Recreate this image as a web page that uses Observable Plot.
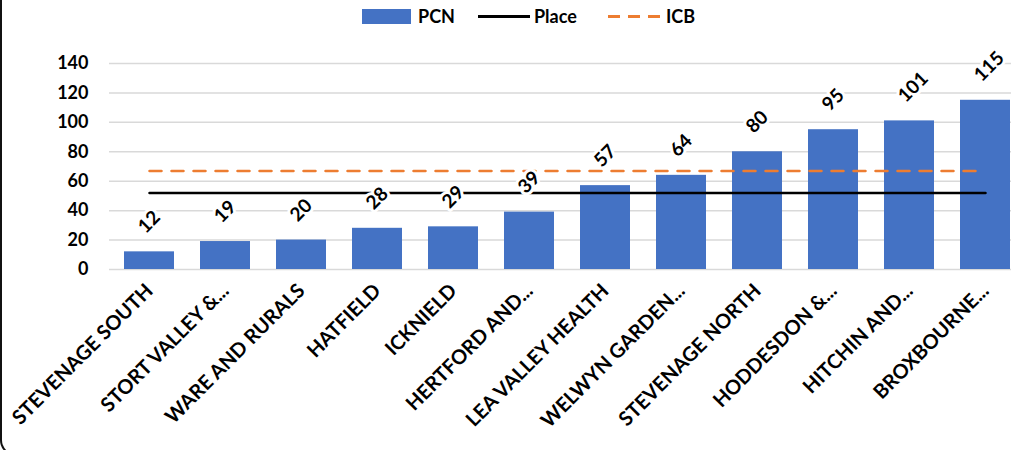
<!DOCTYPE html>
<html><head><meta charset="utf-8">
<script src="https://cdn.jsdelivr.net/npm/d3@7"></script>
<script src="https://cdn.jsdelivr.net/npm/@observablehq/plot@0.6"></script>
<style>
html,body{margin:0;padding:0;background:#fff;}
#wrap{position:relative;width:1011px;height:450px;overflow:hidden;font-family:Lato,sans-serif;}
#frame{position:absolute;left:0;top:-20px;width:1300px;height:474px;border-left:2px solid #111;border-bottom:2px solid #111;border-bottom-left-radius:16px;pointer-events:none;}
#legend{position:relative;height:32px;font-weight:700;font-size:18px;color:#000;}
#legend .sw{position:absolute;}
#legend .lb{position:absolute;top:6px;line-height:20px;}
#chart{position:absolute;left:0;top:32px;}
</style></head>
<body>
<div id="wrap">
  <div id="legend">
    <div class="sw" style="left:362px;top:9px;width:49px;height:15px;background:#4472C4"></div>
    <span class="lb" style="left:418px">PCN</span>
    <div class="sw" style="left:478px;top:15px;width:52px;height:3px;background:#000"></div>
    <span class="lb" style="left:534px">Place</span>
    <div class="sw" style="left:608px;top:15px;width:52px;height:3px;background:repeating-linear-gradient(90deg,#ED7D31 0 12px,transparent 12px 20px)"></div>
    <span class="lb" style="left:666px">ICB</span>
  </div>
  <div id="chart"></div>
  <div id="frame"></div>
</div>
<script>
const categories = ["STEVENAGE SOUTH","STORT VALLEY &...","WARE AND RURALS","HATFIELD","ICKNIELD","HERTFORD AND...","LEA VALLEY HEALTH","WELWYN GARDEN...","STEVENAGE NORTH","HODDESDON &...","HITCHIN AND...","BROXBOURNE..."];
const pcn = [12,19,20,28,29,39,57,64,80,95,101,115];
const place = [52,52,52,52,52,52,52,52,52,52,52,52];
const icb = [67,67,67,67,67,67,67,67,67,67,67,67];
const yTicks = [0,20,40,60,80,100,120,140];

const data = categories.map((c,i)=>({cat:c, pcn:pcn[i], place:place[i], icb:icb[i]}));

const chart = Plot.plot({
  width:1011, height:418,
  marginLeft:109, marginRight:0, marginTop:31, marginBottom:181,
  style:{fontFamily:"Lato, sans-serif", fontWeight:700, fontSize:"18px", color:"#000", background:"transparent", overflow:"visible"},
  x:{domain:categories, range:[96,1037], padding:0.345, label:null},
  y:{domain:[0,140], label:null},
  marks:[
    Plot.gridY(yTicks,{stroke:"#d9d9d9", strokeOpacity:1, strokeWidth:1.5}),
    Plot.axisY(yTicks,{tickSize:0, tickPadding:21, fontSize:18, fontWeight:700, label:null}),
    Plot.axisX({tickSize:0, tickRotate:-45, tickPadding:18, fontSize:20, fontWeight:700, label:null}),
    Plot.barY(data,{x:"cat", y:"pcn", fill:"#4472C4"}),
    Plot.lineY(data,{x:"cat", y:"place", stroke:"#000", strokeWidth:2.5}),
    Plot.lineY(data,{x:"cat", y:"icb", stroke:"#ED7D31", strokeWidth:2.5, strokeDasharray:"12,10"}),
    Plot.text(data,{x:"cat", y:"pcn", text:d=>String(d.pcn), rotate:-45, textAnchor:"start", dx:-8, dy:-22, fontSize:19, fontWeight:700, fill:"#000", stroke:"#fff", strokeWidth:6})
  ]
});
document.getElementById("chart").appendChild(chart);
</script>
</body></html>
